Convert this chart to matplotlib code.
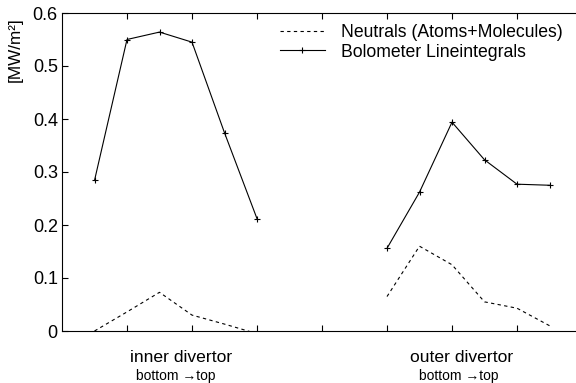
import numpy as np
import matplotlib
matplotlib.use("Agg")
import matplotlib.pyplot as plt

plt.rcParams["font.family"] = ["Liberation Sans", "DejaVu Sans"]

# channel positions (inner: bottom->top, outer: bottom->top)
x_inner = [0.5, 1.0, 1.5, 2.0, 2.5, 3.0]
x_outer = [5.0, 5.5, 6.0, 6.5, 7.0, 7.5]

bolo_inner = [0.284, 0.550, 0.564, 0.545, 0.374, 0.212]
bolo_outer = [0.156, 0.262, 0.394, 0.323, 0.277, 0.275]

neut_inner = [0.0, 0.036, 0.073, 0.030, 0.013, -0.005]
neut_outer = [0.065, 0.160, 0.125, 0.055, 0.043, 0.010]

yticks = [0, 0.1, 0.2, 0.3, 0.4, 0.5, 0.6]
ytick_labels = ["0", "0.1", "0.2", "0.3", "0.4", "0.5", "0.6"]
xticks = [1, 2, 3, 4, 5, 6, 7]

W, H = 576, 383
fig = plt.figure(figsize=(W / 100, H / 100), dpi=100)
ax = fig.add_axes([62 / W, (H - 331) / H, 520 / W, 318 / H])

ax.plot(x_inner, neut_inner, color="black", linestyle=(0, (3, 3)), linewidth=0.8,
        label="Neutrals (Atoms+Molecules)")
ax.plot(x_outer, neut_outer, color="black", linestyle=(0, (3, 3)), linewidth=0.8)
ax.plot(x_inner, bolo_inner, color="black", linewidth=0.8, marker="+", markersize=5,
        markeredgewidth=0.8, label="Bolometer Lineintegrals")
ax.plot(x_outer, bolo_outer, color="black", linewidth=0.8, marker="+", markersize=5,
        markeredgewidth=0.8)

ax.set_xlim(0, 8)
ax.set_ylim(0, 0.6)
ax.set_xticks(xticks)
ax.set_xticklabels([])
ax.set_yticks(yticks)
ax.set_yticklabels(ytick_labels, fontsize=13)
ax.tick_params(direction="in", top=True, right=False, length=4, width=0.8, pad=3)
for s in ax.spines.values():
    s.set_linewidth(0.8)

fig.text(15 / W, 1 - 50 / H, "[MW/m²]", rotation=90, ha="center", va="center", fontsize=12.3)

fig.text(181 / W, 1 - 358 / H, "inner divertor", ha="center", va="center", fontsize=12.6)
fig.text(176 / W, 1 - 376 / H, "bottom \u2192top", ha="center", va="center", fontsize=10)
fig.text(462 / W, 1 - 358 / H, "outer divertor", ha="center", va="center", fontsize=12.6)
fig.text(459 / W, 1 - 376 / H, "bottom \u2192top", ha="center", va="center", fontsize=10)

ax.legend(loc="upper left", bbox_to_anchor=(280 / W, 1 - 24 / H),
          bbox_transform=fig.transFigure, frameon=False, fontsize=12.7,
          handlelength=2.55, handletextpad=0.9, borderpad=0, borderaxespad=0,
          labelspacing=0.15, numpoints=1)

fig.savefig("out.png", dpi=100)
